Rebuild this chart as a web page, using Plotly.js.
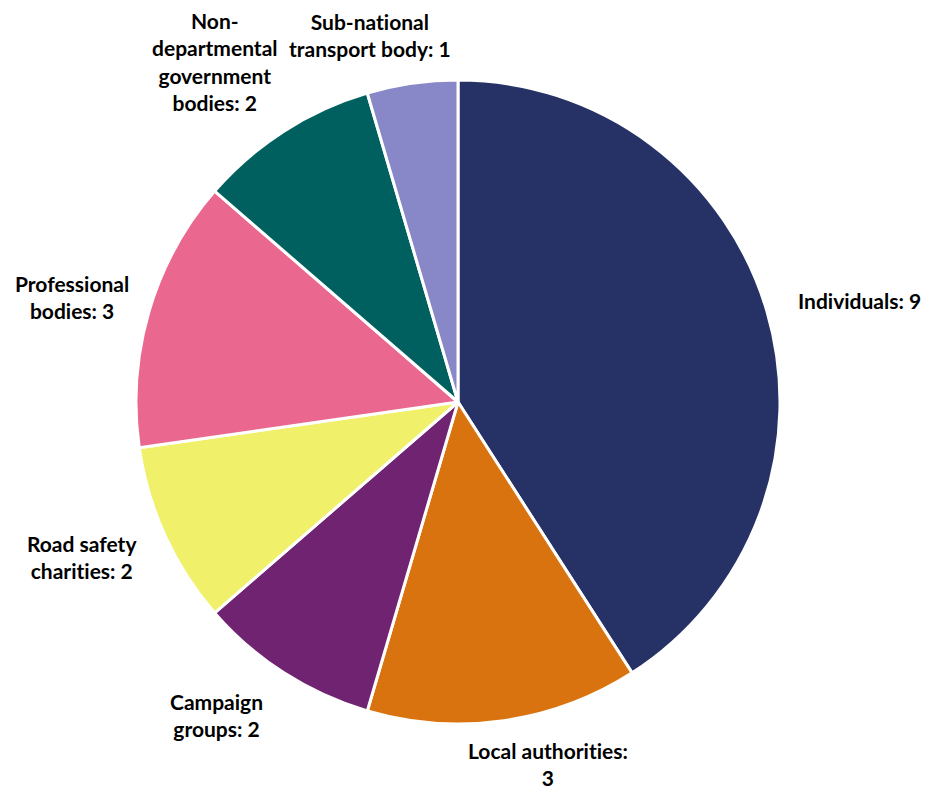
<!DOCTYPE html>
<html>
<head>
<meta charset="utf-8">
<script src="https://cdn.plot.ly/plotly-3.0.1.min.js"></script>
<style>html,body{margin:0;padding:0;background:#fff;}#chart{width:927px;height:791px;}
svg text, svg tspan{font-variant-ligatures:none !important;font-feature-settings:"liga" 0,"clig" 0,"dlig" 0 !important;}</style>
</head>
<body>
<div id="chart"></div>
<script>
const categories = ["Individuals", "Local authorities", "Campaign groups", "Road safety charities", "Professional bodies", "Non-departmental government bodies", "Sub-national transport body"];
const values = [9, 3, 2, 2, 3, 2, 1];
const colors = ["#263265", "#d9730f", "#6f2370", "#f0f06a", "#ea6890", "#006060", "#8887c8"];
// label text wrapping as in reference
const labelLines = [
  ["Individuals: 9"],
  ["Local authorities:", "3"],
  ["Campaign", "groups: 2"],
  ["Road safety", "charities: 2"],
  ["Professional", "bodies: 3"],
  ["Non-", "departmental", "government", "bodies: 2"],
  ["Sub-national", "transport body: 1"]
];
// label centre positions (pixels in 927x791 frame)
const labelPos = [
  [859, 301], [548, 764], [216, 715], [82, 557], [72, 297], [215, 61], [370, 35]
];
const W = 927, H = 791;
const annotations = categories.map((c, i) => ({
  text: labelLines[i].join("<br>"),
  xref: "paper", yref: "paper",
  x: labelPos[i][0] / W, y: 1 - labelPos[i][1] / H,
  xanchor: "center", yanchor: "middle",
  showarrow: false, align: "center",
  font: {family: "Lato, 'Open Sans', sans-serif", size: 21, color: "#000", weight: 700}
}));
const data = [{
  type: "pie",
  labels: categories,
  values: values,
  sort: false,
  direction: "clockwise",
  rotation: 0,
  textinfo: "none",
  hoverinfo: "label+value",
  marker: {colors: colors, line: {color: "#ffffff", width: 3}},
  domain: {x: [136 / W, 780 / W], y: [(H - 724) / H, (H - 80) / H]},
  showlegend: false
}];
const layout = {
  width: W, height: H,
  margin: {l: 0, r: 0, t: 0, b: 0},
  paper_bgcolor: "#ffffff",
  showlegend: false,
  annotations: annotations
};
Plotly.newPlot("chart", data, layout, {displayModeBar: false, staticPlot: true});
</script>
</body>
</html>
